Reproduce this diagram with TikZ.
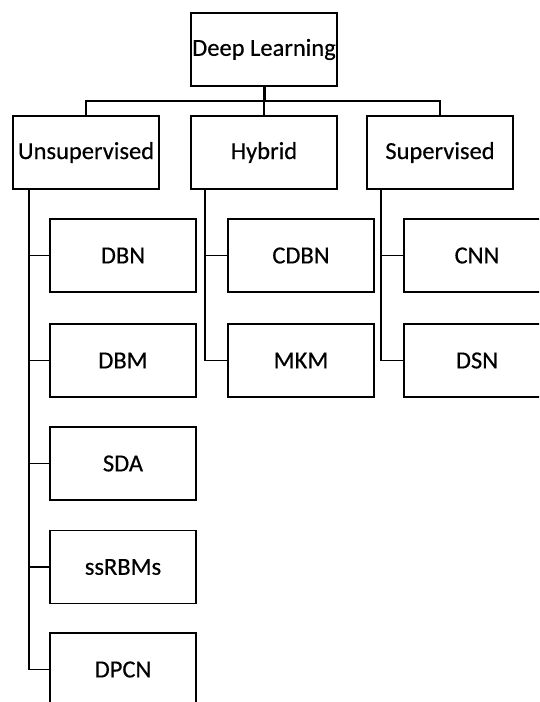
\documentclass[tikz,border=0pt]{standalone}
\usepackage{fontspec}
\setmainfont{Carlito}
\newfontfamily\labelfont{Carlito}[FakeBold=0.4]
\begin{document}
\begin{tikzpicture}[x=1pt,y=-1pt,
  box/.style={draw, line width=1.5pt, rectangle, minimum width=146pt, minimum height=73pt,
              inner sep=0pt, font=\labelfont\fontsize{24.5}{28}\selectfont},
  link/.style={line width=1.5pt}]
\useasboundingbox (0,0) rectangle (539,702);
\clip (0,0) rectangle (539,702);

% root and first level
\node[box] (dl)    at (264,49.5)  {Deep Learning};
\node[box] (unsup) at (86,152.5)  {Unsupervised};
\node[box] (hyb)   at (264,152.5) {Hybrid};
\node[box] (sup)   at (440,152.5) {Supervised};

% second level
\node[box] (dbn)   at (123,255.5) {DBN};
\node[box] (dbm)   at (123,360.5) {DBM};
\node[box] (sda)   at (123,463.5) {SDA};
\node[box] (ssrbm) at (123,567)   {ssRBMs};
\node[box] (dpcn)  at (123,669.5) {DPCN};
\node[box] (cdbn)  at (301,255.5) {CDBN};
\node[box] (mkm)   at (301,360.5) {MKM};
\node[box] (cnn)   at (477,255.5) {CNN};
\node[box] (dsn)   at (477,360.5) {DSN};

% bus below the root
\coordinate (bus) at (264,101);
\draw[line width=3pt] (dl.south) -- (bus);
\draw[link] (unsup.north) |- (bus) -| (sup.north);
\draw[link] (bus) -- (hyb.north);

% branch spines
\coordinate (uspine) at (29,189);
\coordinate (hspine) at (205,189);
\coordinate (sspine) at (381,189);
\draw[link] (uspine) |- (dpcn.west);
\draw[link] (hspine) |- (mkm.west);
\draw[link] (sspine) |- (dsn.west);
\foreach \n in {dbn,dbm,sda,ssrbm}
  \draw[link] (\n.west) -- (\n.west -| uspine);
\draw[link] (cdbn.west) -- (cdbn.west -| hspine);
\draw[link] (cnn.west) -- (cnn.west -| sspine);
\end{tikzpicture}
\end{document}
